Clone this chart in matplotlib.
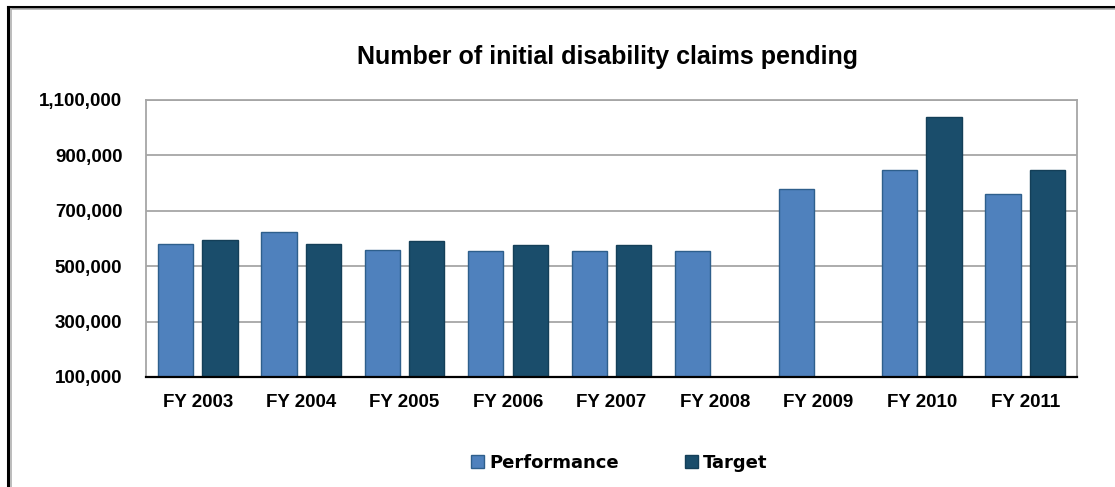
import matplotlib
matplotlib.use("Agg")
import matplotlib.pyplot as plt
from matplotlib.lines import Line2D
import numpy as np

categories = ["FY 2003", "FY 2004", "FY 2005", "FY 2006", "FY 2007",
              "FY 2008", "FY 2009", "FY 2010", "FY 2011"]
performance = [580000, 625000, 560000, 555000, 555000, 555000, 780000, 846000, 760000]
target = [596000, 581000, 590000, 575000, 575000, None, None, 1040000, 846000]
yticks = [100000, 300000, 500000, 700000, 900000, 1100000]

W, H = 1115, 487
fig = plt.figure(figsize=(W / 100, H / 100), dpi=100)
ax = fig.add_axes([146 / W, 1 - 377 / H, (1077 - 146) / W, (377 - 100) / H])

x = np.arange(len(categories))
bw = 0.34
off = 0.215
perf_c = "#4F81BD"
targ_c = "#1A4D6B"

ax.bar(x - off, performance, width=bw, bottom=0, color=perf_c,
       edgecolor="#2E5F8C", linewidth=1.0, zorder=3, label="Performance")
tx = [xi + off for xi, t in zip(x, target) if t is not None]
tv = [t for t in target if t is not None]
ax.bar(tx, tv, width=bw, color=targ_c, edgecolor="#143F58", linewidth=1.0,
       zorder=3, label="Target")

ax.set_ylim(100000, 1100000)
ax.set_xlim(-0.5, len(categories) - 0.5)
ax.set_yticks(yticks)
ax.set_yticklabels([f"{v:,}" for v in yticks])
ax.set_xticks(x)
ax.set_xticklabels(categories)
ax.yaxis.grid(True, color="#a6a6a6", linewidth=1.3, zorder=0)
ax.set_axisbelow(True)
for s in ["left", "top", "right"]:
    ax.spines[s].set_color("#a6a6a6")
    ax.spines[s].set_linewidth(1.3)
ax.spines["bottom"].set_color("black")
ax.spines["bottom"].set_linewidth(1.6)
ax.spines["bottom"].set_zorder(4)
ax.tick_params(axis="both", length=0)
ax.tick_params(axis="y", pad=17)
ax.tick_params(axis="x", pad=12)
for lab in ax.get_yticklabels() + ax.get_xticklabels():
    lab.set_fontfamily("Liberation Sans")
    lab.set_fontweight("bold")
    lab.set_fontsize(13.5)

fig.text(607.5 / W, 1 - 57 / H, "Number of initial disability claims pending",
         ha="center", va="center", fontsize=18, fontweight="bold",
         family="Liberation Sans")

handles = [plt.Rectangle((0, 0), 1, 1, facecolor=perf_c, edgecolor="#2E5F8C"),
           plt.Rectangle((0, 0), 1, 1, facecolor=targ_c, edgecolor="#143F58")]
fig.legend(handles, ["Performance", "Target"], loc="center",
           bbox_to_anchor=(619.5 / W, 1 - 463 / H), ncol=2, frameon=False,
           prop={"family": "DejaVu Sans", "weight": "bold", "size": 13},
           handlelength=0.7, handleheight=0.7, handletextpad=0.3,
           columnspacing=3.65)

# outer frame
fig.add_artist(Line2D([8 / W, 1.0], [1 - 6.5 / H] * 2, color="black", linewidth=2.2,
                      transform=fig.transFigure))
fig.add_artist(Line2D([8 / W, 1.0], [1 - 9 / H] * 2, color="#b0b0b0", linewidth=1.2,
                      transform=fig.transFigure))
fig.add_artist(Line2D([8 / W] * 2, [0, 1 - 6.5 / H], color="black", linewidth=2.2,
                      transform=fig.transFigure))
fig.add_artist(Line2D([10.5 / W] * 2, [0, 1 - 9 / H], color="#b0b0b0", linewidth=1.2,
                      transform=fig.transFigure))

fig.savefig("out.png", dpi=100)
